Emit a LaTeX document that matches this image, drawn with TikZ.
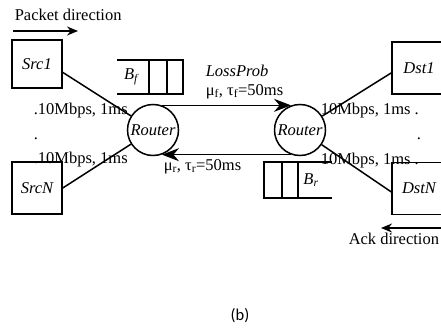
\documentclass[tikz,border=0pt]{standalone}
\usepackage{fontspec}
\setmainfont{Liberation Serif}
\newfontfamily\capfont{Carlito}
\usetikzlibrary{arrows.meta}
\begin{document}
\begin{tikzpicture}[x=1pt,y=-1pt,line width=1.5pt,
  every node/.style={font=\fontsize{16.5}{18}\selectfont,inner sep=0pt},
  hostbox/.style={draw,minimum width=50pt,minimum height=50pt,
    font=\fontsize{16.5}{18}\selectfont\itshape},
  routernode/.style={draw,circle,minimum size=51pt,
    font=\fontsize{16.5}{18}\selectfont\itshape},
  flow/.style={-{Stealth[length=17pt,width=13pt]}},
  hint/.style={-{Stealth[length=11pt,width=9pt]}},
  qline/.style={line width=1.5pt}]
\clip (0,0) rectangle (441,329);
\fill[white] (0,0) rectangle (441,329);

% end hosts
\node[hostbox,minimum height=48pt] (src1) at (37,64) {Src1};
\node[hostbox,minimum height=52pt] (srcN) at (37,188) {SrcN};
\node[hostbox,minimum width=54pt,minimum height=52pt] (dst1) at (419,68) {Dst1};
\node[hostbox,minimum width=54pt,minimum height=52pt] (dstN) at (419,188.5) {DstN};

% bottleneck routers
\node[routernode] (rl) at (153,130) {Router};
\node[routernode] (rr) at (300,130) {Router};

% access links
\draw (src1.-18) -- (rl);
\draw (srcN.east) -- (rl);
\draw (rr) -- (dst1.190);
\draw (rr) -- (dstN.187);

% bottleneck link, both directions
\draw[flow] (rl.70) -- (rr.110);
\draw[flow] (rr.-110) -- (rl.-70);

% forward queue B_f
\draw[qline] (117,60) -- (183,60) -- (183,94) -- (117,94);
\draw[qline] (149,60) -- (149,94);
\draw[qline] (167,60) -- (167,94);
\node (bf) at (131,77) {\textit{B\textsubscript{f}}};

% reverse queue B_r
\draw[qline] (332,162) -- (264,162) -- (264,198) -- (332,198);
\draw[qline] (282,162) -- (282,198);
\draw[qline] (298,162) -- (298,198);
\node (br) at (311,180) {\textit{B\textsubscript{r}}};

% link parameters
\node[anchor=base west] (loss) at (205,76) {\textit{LossProb}};
\node[anchor=base west] (fwd) at (205,95) {μ\textsubscript{f}, τ\textsubscript{f}=50ms};
\node[anchor=base west] (rev) at (163,170) {μ\textsubscript{r}, τ\textsubscript{r}=50ms};

\node[anchor=base west] (la) at (33,114) {.10Mbps, 1ms};
\node[anchor=base west] (lb) at (33,139) {.};
\node[anchor=base west] (lc) at (33,163) {.10Mbps, 1ms};
\node[anchor=base west] (ra) at (320,114) {10Mbps, 1ms .};
\node[anchor=base west] (rb) at (416,139) {.};
\node[anchor=base west] (rc) at (320,164) {10Mbps, 1ms .};

% traffic directions
\node[anchor=base west] (pd) at (14,21) {Packet direction};
\coordinate (pdA) at (13,31);
\coordinate (pdB) at (78,31);
\draw[hint] (pdA) -- (pdB);
\coordinate (adA) at (442,228);
\coordinate (adB) at (381,228);
\draw[hint] (adA) -- (adB);
\node[anchor=base west] (ad) at (348,244) {Ack direction};

\node (cap) at (240,316) {\capfont (b)};
\end{tikzpicture}
\end{document}
